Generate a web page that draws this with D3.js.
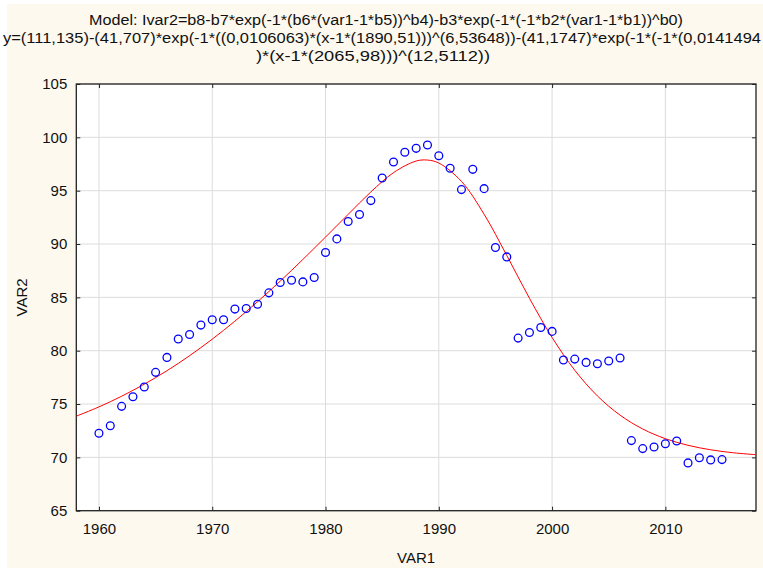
<!DOCTYPE html>
<html>
<head>
<meta charset="utf-8">
<script src="https://cdn.jsdelivr.net/npm/d3@7/dist/d3.min.js"></script>
<style>
  body { margin: 0; background: #ffffff; }
  text { font-family: "Liberation Sans", Arial, Helvetica, sans-serif; fill: #111; }
</style>
</head>
<body>
<div id="chart"></div>
<script>
// observed points
var years = [1960, 1961, 1962, 1963, 1964, 1965, 1966, 1967, 1968, 1969,
             1970, 1971, 1972, 1973, 1974, 1975, 1976, 1977, 1978, 1979,
             1980, 1981, 1982, 1983, 1984, 1985, 1986, 1987, 1988, 1989,
             1990, 1991, 1992, 1993, 1994, 1995, 1996, 1997, 1998, 1999,
             2000, 2001, 2002, 2003, 2004, 2005, 2006, 2007, 2008, 2009,
             2010, 2011, 2012, 2013, 2014, 2015];
var var2 = [72.26, 72.97, 74.78, 75.68, 76.59, 77.97, 79.37, 81.09, 81.52, 82.40,
            82.90, 82.90, 83.90, 83.96, 84.36, 85.42, 86.39, 86.61, 86.45, 86.86,
            89.20, 90.48, 92.11, 92.76, 94.07, 96.19, 97.69, 98.60, 98.97, 99.28,
            98.28, 97.10, 95.10, 97.00, 95.19, 89.67, 88.79, 81.18, 81.71, 82.18,
            81.81, 79.12, 79.21, 78.90, 78.78, 79.03, 79.31, 71.57, 70.82, 70.97,
            71.28, 71.53, 69.48, 69.97, 69.76, 69.79];

// fitted curve
var fitYears = [1958, 1960, 1962, 1964, 1966, 1968, 1970, 1972, 1974, 1976,
                1978, 1980, 1982, 1984, 1986, 1988, 1989, 1990, 1992, 1994,
                1996, 1998, 2000, 2002, 2004, 2006, 2008, 2010, 2012, 2014,
                2016, 2018];
var fitValues = [73.86, 74.73, 75.73, 76.86, 78.12, 79.53, 81.08, 82.77, 84.59, 86.52,
                 88.55, 90.65, 92.78, 94.88, 96.69, 97.78, 97.87, 97.59, 95.87, 92.79,
                 88.93, 84.92, 81.24, 78.17, 75.76, 73.96, 72.66, 71.75, 71.13, 70.71,
                 70.43, 70.25];

var xTicks = [1960, 1970, 1980, 1990, 2000, 2010];
var yTicks = [65, 70, 75, 80, 85, 90, 95, 100, 105];

var titleLines = [
    "Model: Ivar2=b8-b7*exp(-1*(b6*(var1-1*b5))^b4)-b3*exp(-1*(-1*b2*(var1-1*b1))^b0)",
    "y=(111,135)-(41,707)*exp(-1*((0,0106063)*(x-1*(1890,51)))^(6,53648))-(41,1747)*exp(-1*(-1*(0,0141494",
    ")*(x-1*(2065,98)))^(12,5112))"
];

var totalWidth = 763, totalHeight = 570,
    margin = {top: 84, right: 7, bottom: 59.3, left: 76.3},
    width = totalWidth - margin.left - margin.right,
    height = totalHeight - margin.top - margin.bottom;

var x = d3.scaleLinear().domain([1958, 2018]).range([0, width]),
    y = d3.scaleLinear().domain([65, 105]).range([height, 0]);

var svg = d3.select("#chart").append("svg")
    .attr("width", totalWidth)
    .attr("height", totalHeight);

// cream background
svg.append("rect")
    .attr("x", 7).attr("y", 4)
    .attr("width", totalWidth - 7).attr("height", 564)
    .attr("fill", "#fdf9ef");

// title (x start, baseline, width)
var titleBox = [[89, 25, 594], [3, 43, 758], [256, 61, 234]];
svg.selectAll(".title")
    .data(titleLines)
    .enter()
    .append("text")
    .attr("class", "title")
    .attr("x", function(d, i) { return titleBox[i][0]; })
    .attr("y", function(d, i) { return titleBox[i][1]; })
    .attr("textLength", function(d, i) { return titleBox[i][2]; })
    .attr("lengthAdjust", "spacingAndGlyphs")
    .style("font-size", "14px")
    .text(function(d) { return d; });

var g = svg.append("g")
    .attr("transform", "translate(" + margin.left + "," + margin.top + ")");

g.append("rect")
    .attr("width", width).attr("height", height)
    .attr("fill", "#ffffff");

g.append("clipPath").attr("id", "clip")
    .append("rect").attr("width", width).attr("height", height);

// grid
g.selectAll(".gx").data(xTicks).enter().append("line")
    .attr("x1", x).attr("x2", x)
    .attr("y1", 0).attr("y2", height)
    .attr("stroke", "#dcdcdc");
g.selectAll(".gy").data(yTicks).enter().append("line")
    .attr("y1", y).attr("y2", y)
    .attr("x1", 0).attr("x2", width)
    .attr("stroke", "#dcdcdc");

// axes with inward ticks
function styleAxis(sel) {
    sel.select(".domain").remove();
    sel.selectAll(".tick line").attr("stroke", "#222");
    sel.selectAll(".tick text").style("font-size", "15px").attr("fill", "#111");
}
g.append("g")
    .attr("transform", "translate(0," + height + ")")
    .call(d3.axisBottom(x).tickValues(xTicks).tickFormat(d3.format("d")).tickSizeInner(-4).tickPadding(13))
    .call(styleAxis);
g.append("g")
    .call(d3.axisTop(x).tickValues(xTicks).tickFormat("").tickSizeInner(-4))
    .call(styleAxis);
g.append("g")
    .call(d3.axisLeft(y).tickValues(yTicks).tickSizeInner(-4).tickPadding(9))
    .call(styleAxis);
g.append("g")
    .attr("transform", "translate(" + width + ",0)")
    .call(d3.axisRight(y).tickValues(yTicks).tickFormat("").tickSizeInner(-4))
    .call(styleAxis);

// frame
g.append("rect")
    .attr("width", width).attr("height", height)
    .attr("fill", "none")
    .attr("stroke", "#222")
    .attr("stroke-width", 1.3);

// fitted line
var line = d3.line()
    .x(function(d, i) { return x(fitYears[i]); })
    .y(function(d) { return y(d); })
    .curve(d3.curveCatmullRom);
g.append("path")
    .datum(fitValues)
    .attr("clip-path", "url(#clip)")
    .attr("d", line)
    .attr("fill", "none")
    .attr("stroke", "#ff0000")
    .attr("stroke-width", 1);

// points
g.selectAll(".pt")
    .data(var2)
    .enter()
    .append("circle")
    .attr("class", "pt")
    .attr("cx", function(d, i) { return x(years[i]); })
    .attr("cy", function(d) { return y(d); })
    .attr("r", 3.9)
    .attr("fill", "none")
    .attr("stroke", "#0000ff")
    .attr("stroke-width", 1.3);

// axis titles
svg.append("text")
    .attr("x", margin.left + width / 2)
    .attr("y", 563)
    .attr("text-anchor", "middle")
    .style("font-size", "15px")
    .text("VAR1");
svg.append("text")
    .attr("transform", "translate(27," + (margin.top + height / 2) + ") rotate(-90)")
    .attr("text-anchor", "middle")
    .style("font-size", "15px")
    .text("VAR2");
</script>
</body>
</html>
